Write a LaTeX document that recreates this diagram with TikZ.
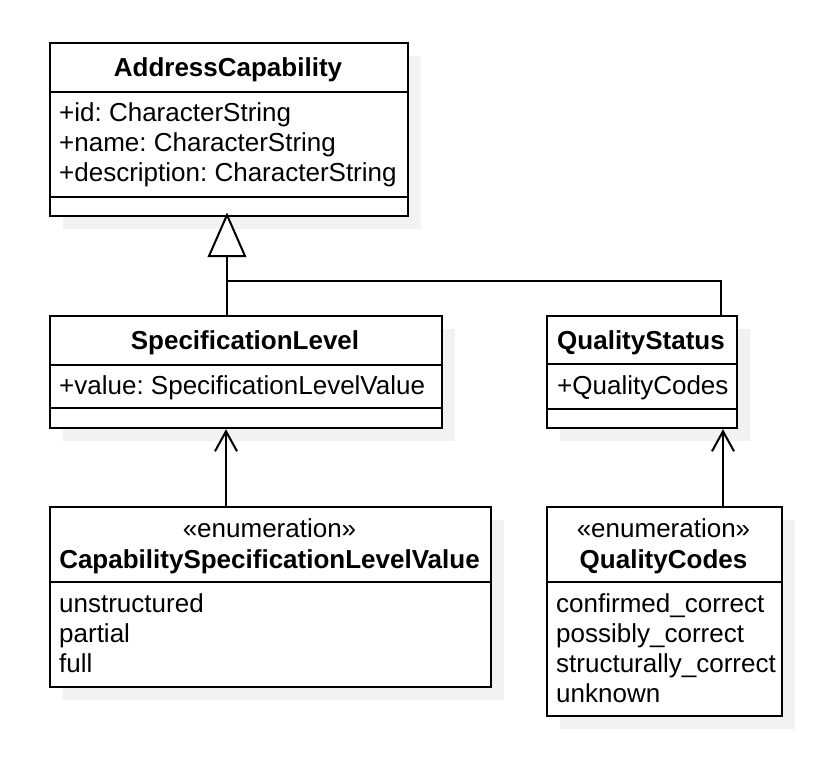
\documentclass[tikz,border=0pt]{standalone}
\usepackage{fontspec}
\setmainfont{Liberation Sans}
\usetikzlibrary{arrows.meta}
\definecolor{shadec}{RGB}{242,242,242}
\frenchspacing
\begin{document}
\begin{tikzpicture}[x=1pt,y=-1pt,
  umlbox/.style={draw=black, line width=2.2pt, fill=white, rectangle, anchor=north west, inner sep=0pt},
  shadowbox/.style={fill=shadec, draw=none},
  divider/.style={line width=2.2pt},
  txt/.style={anchor=base west, inner sep=0pt, font=\fontsize{26}{30}\selectfont},
  ttl/.style={anchor=base, inner sep=0pt, font=\fontsize{26}{30}\selectfont\bfseries},
  stereo/.style={anchor=base, inner sep=0pt, font=\fontsize{26}{30}\selectfont},
  conn/.style={line width=2pt},
  dep/.style={conn, -{Straight Barb[length=20pt,width=22pt,line width=2pt]}}
]
\useasboundingbox (0,0) rectangle (836,774);

% shadows
\fill[shadowbox] (63,56) rectangle (421,229);
\fill[shadowbox] (63,329) rectangle (455,441);
\fill[shadowbox] (560,329) rectangle (750,441);
\fill[shadowbox] (63,520) rectangle (504,700);
\fill[shadowbox] (560,520) rectangle (795,729);

% AddressCapability
\node[umlbox, minimum width=358, minimum height=173] (ac) at (49,42) {};
\draw[divider] (49,92) -- (407,92);
\draw[divider] (49,197) -- (407,197);
\node[ttl] (acname) at (228,76.5) {AddressCapability};
\node[txt] (ac1) at (59,121) {+id: CharacterString};
\node[txt] (ac2) at (59,151) {+name: CharacterString};
\node[txt] (ac3) at (59,181) {+description: CharacterString};

% SpecificationLevel
\node[umlbox, minimum width=392, minimum height=112] (sl) at (49,315) {};
\draw[divider] (49,365) -- (441,365);
\draw[divider] (49,408) -- (441,408);
\node[ttl] (slname) at (245,349) {SpecificationLevel};
\node[txt] (sl1) at (59,394) {+value: SpecificationLevelValue};

% QualityStatus
\node[umlbox, minimum width=190, minimum height=112] (qs) at (546,315) {};
\draw[divider] (546,364) -- (736,364);
\draw[divider] (546,409) -- (736,409);
\node[ttl] (qsname) at (641,349) {QualityStatus};
\node[txt] (qs1) at (557,394) {+QualityCodes};

% CapabilitySpecificationLevelValue
\node[umlbox, minimum width=441, minimum height=180] (cs) at (49,506) {};
\draw[divider] (49,582) -- (490,582);
\node[stereo] (csst) at (269.5,537) {«enumeration»};
\node[ttl] (csname) at (269.5,568) {CapabilitySpecificationLevelValue};
\node[txt] (cs1) at (59,612) {unstructured};
\node[txt] (cs2) at (59,642) {partial};
\node[txt] (cs3) at (59,672) {full};

% QualityCodes
\node[umlbox, minimum width=235, minimum height=209] (qc) at (546,506) {};
\draw[divider] (546,582) -- (781,582);
\node[stereo] (qcst) at (663.5,537) {«enumeration»};
\node[ttl] (qcname) at (663.5,568) {QualityCodes};
\node[txt] (qc1) at (556,612) {confirmed\_correct};
\node[txt] (qc2) at (556,642) {possibly\_correct};
\node[txt] (qc3) at (556,672) {structurally\_correct};
\node[txt] (qc4) at (556,702) {unknown};

% generalization
\coordinate (gtip) at (227,215);
\coordinate (gbase) at (227,256);
\coordinate (gjoin) at (227,281);
\coordinate (qx) at (721,0);
\draw[conn] (sl.north -| gtip) -- (gbase);
\draw[conn] (gbase) -- (gjoin) -| (qs.north -| qx);
\draw[conn, fill=white, line join=miter] (gtip) -- (209,256) -- (245,256) -- cycle;

% dependencies
\coordinate (dx1) at (226,0);
\coordinate (dx2) at (723,0);
\draw[dep] (cs.north -| dx1) -- (sl.south -| dx1);
\draw[dep] (qc.north -| dx2) -- (qs.south -| dx2);
\end{tikzpicture}
\end{document}
